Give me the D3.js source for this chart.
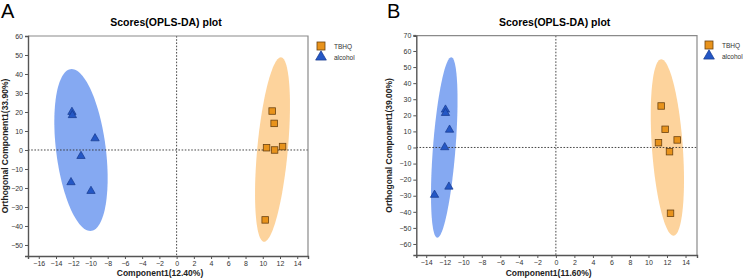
<!DOCTYPE html>
<html><head><meta charset="utf-8">
<script src="https://cdn.jsdelivr.net/npm/d3@7"></script>
<style>body{margin:0;background:#fff}svg{display:block;font-family:"Liberation Sans",Arial,sans-serif}</style>
</head><body><svg id="c" width="743" height="279"></svg>
<script>
// ---- data ----
const groups = ["TBHQ", "alcohol"];
// Panel A
const aTbhqX = [11.09, 11.32, 10.44, 11.37, 12.3, 10.28];
const aTbhqY = [20.5, 14.0, 1.2, 0.0, 1.8, -36.8];
const aAlcX = [-12.15, -12.1, -9.47, -11.1, -12.26, -9.94];
const aAlcY = [20.0, 18.3, 6.1, -3.2, -17.0, -21.6];
// ellipse: centre, vector to topmost point, horizontal half-chord through centre
const aTbhqEll = [11.13, 0.25, 0.97, 48.55, 1.78];
const aAlcEll = [-11.1, 0.0, -1.08, 42.6, 2.9];
const aXTicks = [-16,-14,-12,-10,-8,-6,-4,-2,0,2,4,6,8,10,12,14];
const aYTicks = [-50,-40,-30,-20,-10,0,10,20,30,40,50,60];
// Panel B
const bTbhqX = [11.37, 11.8, 11.08, 13.1, 12.27, 12.38];
const bTbhqY = [25.8, 11.3, 3.0, 4.7, -2.6, -40.9];
const bAlcX = [-11.92, -11.92, -11.48, -12.0, -11.55, -13.1];
const bAlcY = [23.5, 21.4, 11.0, 0.1, -24.4, -29.5];
const bTbhqEll = [12.04, 0.0, -0.66, 54.85, 1.67];
const bAlcEll = [-12.05, 0.0, 0.75, 56.1, 1.22];
const bXTicks = [-14,-12,-10,-8,-6,-4,-2,0,2,4,6,8,10,12,14];
const bYTicks = [-60,-50,-40,-30,-20,-10,0,10,20,30,40,50,60,70];

const svg = d3.select("#c");

function panel(o) {
  const g = svg.append("g");
  const x = d3.scaleLinear().domain(o.xDom).range([o.x0, o.x1]);
  const y = d3.scaleLinear().domain(o.yDom).range([o.y1, o.y0]);
  // ellipses
  function ell(e, fill) {
    const pts = d3.range(0, 361, 3).map(t => {
      const r = t * Math.PI / 180;
      return [x(e[0] + Math.cos(r) * e[2] + Math.sin(r) * e[4]), y(e[1] + Math.cos(r) * e[3])];
    });
    g.append("path").attr("d", d3.line()(pts) + "Z").attr("fill", fill).attr("stroke", "none");
  }
  ell(o.alcEll, "#85a9f2");
  ell(o.tbhqEll, "#fdd39c");
  // zero lines
  g.append("line").attr("x1", x(0)).attr("x2", x(0)).attr("y1", o.y0).attr("y2", o.y1)
    .attr("stroke", "#333").attr("stroke-width", 0.9).attr("stroke-dasharray", "1.6,1.6");
  g.append("line").attr("x1", o.x0).attr("x2", o.x1).attr("y1", y(0)).attr("y2", y(0))
    .attr("stroke", "#333").attr("stroke-width", 0.9).attr("stroke-dasharray", "1.6,1.6");
  // border top/right
  g.append("path").attr("d", `M${o.x0},${o.y0}H${o.x1}V${o.y1}`).attr("fill", "none")
    .attr("stroke", "#8a8a8a").attr("stroke-width", 1.2);
  // axes
  const ax = g.append("g").attr("transform", `translate(0,${o.y1})`)
    .call(d3.axisBottom(x).tickValues(o.xTicks).tickSize(3).tickPadding(2));
  const ay = g.append("g").attr("transform", `translate(${o.x0},0)`)
    .call(d3.axisLeft(y).tickValues(o.yTicks).tickSize(3).tickPadding(2));
  [ax, ay].forEach(a => {
    a.select(".domain").attr("stroke", "#555").attr("stroke-width", 1.4);
    a.selectAll(".tick line").attr("stroke", "#555");
    a.selectAll(".tick text").attr("fill", "#333").style("font-size", "7px");
  });
  // markers
  const sq = 6.5;
  o.tbhqX.forEach((v, i) => {
    g.append("rect").attr("x", x(v) - sq/2).attr("y", y(o.tbhqY[i]) - sq/2)
      .attr("width", sq).attr("height", sq).attr("fill", "#e8931c").attr("stroke", "#6b4210").attr("stroke-width", 0.8);
  });
  const tri = d3.symbol().type(d3.symbolTriangle).size(30);
  o.alcX.forEach((v, i) => {
    g.append("path").attr("d", tri()).attr("transform", `translate(${x(v)},${y(o.alcY[i])})`)
      .attr("fill", "#2457c5").attr("stroke", "#173a8c").attr("stroke-width", 0.7);
  });
  // titles
  g.append("text").attr("x", o.labX).attr("y", 18).style("font-size", "20px").text(o.letter);
  g.append("text").attr("x", (o.x0 + o.x1) / 2 - 2).attr("y", 26).attr("text-anchor", "middle")
    .style("font-size", "10.5px").style("font-weight", "bold").text("Scores(OPLS-DA) plot");
  g.append("text").attr("x", (o.x0 + o.x1) / 2 - 8).attr("y", 276).attr("text-anchor", "middle")
    .style("font-size", "8.5px").style("font-weight", "bold").attr("fill", "#222").text(o.xLabel);
  g.append("text").attr("transform", `translate(${o.yLabX},${(o.y0 + o.y1) / 2}) rotate(-90)`)
    .attr("text-anchor", "middle").style("font-size", "8.5px").style("font-weight", "bold").attr("fill", "#222").text(o.yLabel);
  // legend
  const lg = g.append("g").attr("transform", `translate(${o.legX},${o.legY})`);
  lg.append("rect").attr("x", -4).attr("y", -4).attr("width", 8).attr("height", 8)
    .attr("fill", "#e8931c").attr("stroke", "#6b4210").attr("stroke-width", 0.8);
  lg.append("path").attr("d", d3.symbol().type(d3.symbolTriangle).size(50)()).attr("transform", "translate(0,11)")
    .attr("fill", "#2457c5").attr("stroke", "#173a8c").attr("stroke-width", 0.7);
  groups.forEach((n, i) => lg.append("text").attr("x", 13).attr("y", i * 11 + 2.5)
    .style("font-size", "6.5px").attr("fill", "#333").text(n));
}

panel({x0: 28, x1: 308, y0: 36, y1: 256, xDom: [-17.25, 15.25], yDom: [-55.8, 60],
  xTicks: aXTicks, yTicks: aYTicks, tbhqX: aTbhqX, tbhqY: aTbhqY, alcX: aAlcX, alcY: aAlcY,
  tbhqEll: aTbhqEll, alcEll: aAlcEll, letter: "A", labX: 1, legX: 321, legY: 46, yLabX: 8,
  xLabel: "Component1(12.40%)", yLabel: "Orthogonal Component1(33.90%)"});
panel({x0: 416.3, x1: 697, y0: 35.7, y1: 255, xDom: [-15.07, 15.24], yDom: [-66.85, 69.5],
  xTicks: bXTicks, yTicks: bYTicks, tbhqX: bTbhqX, tbhqY: bTbhqY, alcX: bAlcX, alcY: bAlcY,
  tbhqEll: bTbhqEll, alcEll: bAlcEll, letter: "B", labX: 387, legX: 709, legY: 45, yLabX: 392,
  xLabel: "Component1(11.60%)", yLabel: "Orthogonal Component1(39.00%)"});
</script></body></html>
